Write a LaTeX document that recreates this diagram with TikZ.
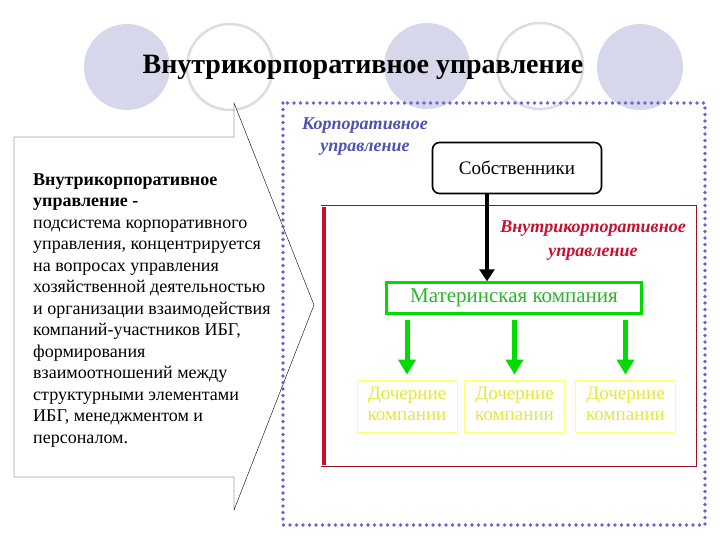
\documentclass[tikz,border=0pt]{standalone}
\usepackage{fontspec}
\usepackage{graphicx}
\setmainfont{Liberation Serif}
\usetikzlibrary{positioning, arrows.meta, calc}
\definecolor{ibgblue}{HTML}{6464D2}
\definecolor{ibglabel}{HTML}{5050B4}
\definecolor{ibglav}{HTML}{D7D7EC}
\definecolor{ibgring}{HTML}{DCDCE6}
\definecolor{ibgred}{HTML}{C8102E}
\definecolor{ibgdarkred}{HTML}{A01020}
\definecolor{ibggreen}{HTML}{00DC00}
\definecolor{ibgtext}{HTML}{2CB42C}
\definecolor{ibgyellow}{HTML}{FFFF78}
\definecolor{ibgytext}{HTML}{E6E63C}

\begin{document}
\begin{tikzpicture}[
    x=1pt, y=-1pt,
    every node/.style={font=\fontsize{15}{18}\selectfont},
    disc/.style={fill=ibglav},
    ring/.style={draw=ibgring, line width=2.5pt, fill=white},
    dotframe/.style={draw=ibgblue, line width=3.6pt, line cap=round, dash pattern=on 0pt off 6.5pt},
    redframe/.style={draw=ibgdarkred, line width=0.7pt, double=white, double distance=1.6pt},
    ownerbox/.style={draw, line width=1.6pt, rounded corners=7pt, minimum width=169pt, minimum height=51pt},
    parentbox/.style={draw=ibggreen, line width=2.4pt, text=ibgtext, minimum width=255pt, minimum height=31pt},
    childbox/.style={draw=ibgyellow, line width=0.8pt, text=ibgytext, minimum width=100pt, minimum height=52pt},
    ownerarrow/.style={line width=4pt, -{Triangle[width=15pt, length=12pt]}},
    childarrow/.style={draw=ibggreen, line width=5pt, -{Triangle[width=17pt, length=15pt]}, ibggreen},
  ]
  \useasboundingbox (0,0) rectangle (720,540);

  % Decorative circles
  \fill[disc] (127,67) circle[radius=43pt];
  \draw[ring] (230,67) circle[radius=43pt];
  \fill[disc] (427,66) circle[radius=43pt];
  \draw[ring] (540,66) circle[radius=43pt];
  \fill[disc] (640,67) circle[radius=43pt];

  % Title
  \node[font=\bfseries\fontsize{28}{30}\selectfont, anchor=base] (title) at (363,74) {Внутрикорпоративное управление};

  % Callout with definition
  \draw[thin, fill=white] (14,137) -- (234,137) -- (234,103) -- (314,305) -- (234,510) -- (234,477) -- (14,477) -- cycle;
  \node[anchor=north west, inner sep=0pt] (def) at (33,170)
    {\scalebox{1.2}{\fontsize{15}{17.92}\selectfont\begin{tabular}{@{}l@{}}
     \textbf{Внутрикорпоративное}\\
     \textbf{управление -}\\
     подсистема корпоративного\\
     управления, концентрируется\\
     на вопросах управления\\
     хозяйственной деятельностью\\
     и организации взаимодействия\\
     компаний-участников ИБГ,\\
     формирования\\
     взаимоотношений между\\
     структурными элементами\\
     ИБГ, менеджментом и\\
     персоналом.
     \end{tabular}}};

  % Corporate governance frame
  \draw[dotframe] (283,103) rectangle (705,525);
  \node[text=ibglabel] (corp) at (365,136)
    {\scalebox{1.2}{\itshape\bfseries\fontsize{15}{18.3}\selectfont\begin{tabular}{@{}c@{}}Корпоративное\\управление\end{tabular}}};

  % Owners
  \node[ownerbox] (owners) at (517,168) {\scalebox{1.27}{Собственники}};

  % Intra-corporate frame
  \draw[redframe] (322,207) rectangle (695,465);
  \draw[ibgred, line width=4pt] (324,207) -- (324,465);
  \node[text=ibgred] (intra) at (593,240)
    {\scalebox{1.2}{\itshape\bfseries\fontsize{15}{20}\selectfont\begin{tabular}{@{}c@{}}Внутрикорпоративное\\управление\end{tabular}}};

  % Parent company
  \node[parentbox] (parent) at (514,298) {\scalebox{1.4}{Материнская компания}};
  \draw[ownerarrow] ([xshift=-30pt]owners.south) -- ([xshift=-30pt]owners.south |- parent.north);

  % Subsidiaries
  \node[childbox] (child1) at (407,406) {\scalebox{1.27}{\fontsize{15}{15.8}\selectfont\begin{tabular}{@{}c@{}}Дочерние\\компании\end{tabular}}};
  \node[childbox] (child2) at (514.5,406) {\scalebox{1.27}{\fontsize{15}{15.8}\selectfont\begin{tabular}{@{}c@{}}Дочерние\\компании\end{tabular}}};
  \node[childbox] (child3) at (625.5,406) {\scalebox{1.27}{\fontsize{15}{15.8}\selectfont\begin{tabular}{@{}c@{}}Дочерние\\компании\end{tabular}}};
  \draw[childarrow] ([yshift=-5pt]parent.south -| child1.north) -- ([yshift=5pt]child1.north);
  \draw[childarrow] ([yshift=-5pt]parent.south -| child2.north) -- ([yshift=5pt]child2.north);
  \draw[childarrow] ([yshift=-5pt]parent.south -| child3.north) -- ([yshift=5pt]child3.north);
\end{tikzpicture}
\end{document}
